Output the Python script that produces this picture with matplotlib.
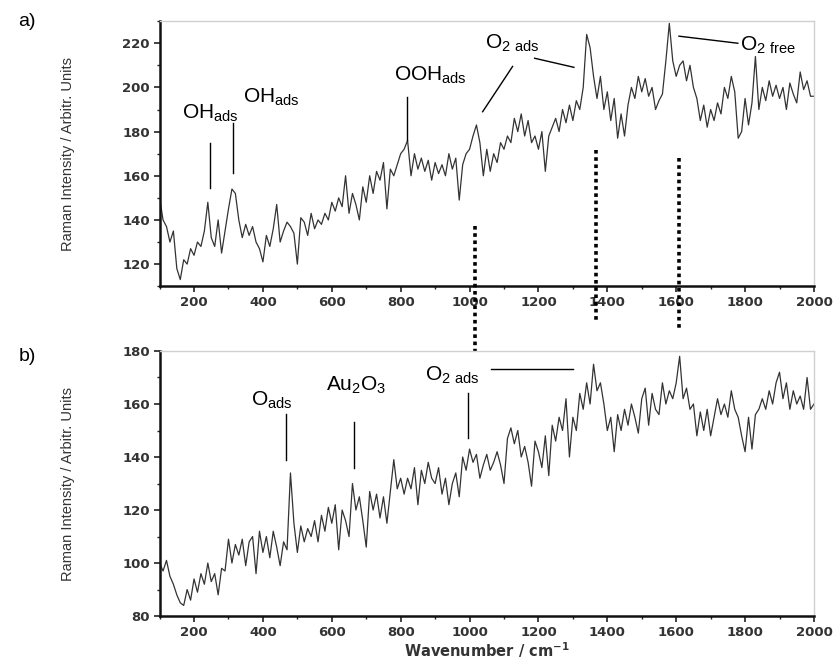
import matplotlib
matplotlib.use("Agg")
import matplotlib.pyplot as plt
from matplotlib.ticker import MultipleLocator
import numpy as np

plt.rcParams['font.family'] = ['Liberation Sans', 'DejaVu Sans']
plt.rcParams['mathtext.default'] = 'regular'

# wavenumber axis, 10 cm-1 steps
wn = np.arange(100, 2001, 10)

# spectrum a)
spec_a = [
    150, 140, 137, 130, 135, 118, 113, 122, 120, 127,
    124, 130, 128, 135, 148, 132, 128, 140, 125, 135,
    145, 154, 152, 140, 132, 138, 133, 137, 130, 127,
    121, 133, 128, 136, 147, 130, 135, 139, 137, 134,
    120, 141, 139, 133, 143, 136, 140, 138, 143, 140,
    148, 144, 150, 146, 160, 143, 152, 147, 140, 155,
    148, 160, 152, 162, 158, 166, 145, 163, 160, 165,
    170, 172, 176, 160, 170, 163, 168, 162, 167, 158,
    166, 161, 165, 160, 170, 163, 168, 149, 165, 170,
    172, 178, 183, 175, 160, 172, 162, 170, 166, 175,
    172, 178, 175, 186, 180, 188, 178, 185, 175, 178,
    172, 180, 162, 178, 182, 186, 180, 190, 184, 192,
    185, 194, 190, 200, 224, 218, 205, 195, 205, 190,
    198, 185, 195, 177, 188, 178, 192, 200, 195, 205,
    198, 204, 196, 200, 190, 194, 197, 212, 229, 212,
    205, 210, 212, 203, 210, 200, 195, 185, 192, 182,
    190, 185, 193, 188, 200, 195, 205, 198, 177, 180,
    195, 183, 193, 214, 190, 200, 194, 203, 196, 201,
    195, 200, 190, 202, 197, 193, 207, 199, 203, 196,
    196,
]

# spectrum b)
spec_b = [
    100, 97, 101, 95, 92, 88, 85, 84, 90, 86,
    94, 89, 96, 92, 100, 93, 96, 88, 98, 97,
    109, 100, 107, 103, 109, 99, 108, 110, 96, 112,
    104, 110, 102, 112, 106, 99, 108, 105, 134, 115,
    104, 114, 108, 113, 110, 116, 108, 118, 112, 121,
    115, 122, 105, 120, 116, 110, 130, 120, 125, 116,
    106, 127, 120, 126, 117, 125, 115, 127, 139, 128,
    132, 126, 132, 128, 136, 122, 135, 130, 138, 132,
    130, 136, 126, 132, 122, 130, 134, 125, 140, 135,
    143, 138, 141, 132, 137, 141, 135, 138, 142, 137,
    130, 147, 151, 145, 150, 140, 144, 138, 129, 146,
    142, 136, 148, 133, 152, 146, 155, 150, 162, 140,
    155, 150, 164, 158, 168, 160, 175, 165, 168, 160,
    150, 155, 142, 156, 150, 158, 152, 160, 155, 149,
    162, 166, 152, 164, 158, 156, 168, 160, 165, 162,
    168, 178, 162, 166, 158, 160, 148, 157, 150, 158,
    148, 155, 162, 156, 160, 155, 165, 158, 155, 148,
    142, 155, 143, 156, 158, 162, 158, 165, 160, 168,
    172, 162, 168, 158, 165, 160, 163, 158, 170, 158,
    160,
]

tick_font = dict(family='DejaVu Sans', weight='bold', size=9.5)
line_col = '#333333'

fig = plt.figure(figsize=(8.4, 6.61), dpi=100)
ax1 = fig.add_axes([0.190, 0.567, 0.779, 0.401])
ax2 = fig.add_axes([0.190, 0.068, 0.779, 0.401])


def style(ax, ylim, ymaj, ymin):
    ax.set_xlim(100, 2000)
    ax.set_ylim(*ylim)
    ax.xaxis.set_major_locator(MultipleLocator(200))
    ax.xaxis.set_minor_locator(MultipleLocator(100))
    ax.yaxis.set_major_locator(MultipleLocator(ymaj))
    ax.yaxis.set_minor_locator(MultipleLocator(ymin))
    ax.set_xticks(np.arange(200, 2001, 200))
    ax.tick_params(which='major', direction='out', length=4, width=1.2,
                   color='#222222', top=False, right=False, pad=3)
    ax.tick_params(which='minor', direction='out', length=2.5, width=1,
                   color='#222222', top=False, right=False)
    for lab in ax.get_xticklabels() + ax.get_yticklabels():
        lab.set(**tick_font)
        lab.set_color('#333333')
    for s in ['left', 'bottom']:
        ax.spines[s].set_linewidth(1.8)
        ax.spines[s].set_color('#111111')
    for s in ['top', 'right']:
        ax.spines[s].set_linewidth(1)
        ax.spines[s].set_color('#d0d0d0')
    ax.set_ylabel('Raman Intensity / Arbitr. Units', size=10.5,
                  color='#333333', labelpad=34)


ax1.plot(wn, spec_a, color=line_col, lw=0.9)
ax2.plot(wn, spec_b, color=line_col, lw=0.9)
style(ax1, (110, 230), 20, 10)
style(ax2, (80, 180), 20, 10)
ax2.set_xlabel('Wavenumber / cm$^{-1}$', family='DejaVu Sans',
               weight='bold', size=10.5, color='#333333', labelpad=1)

lab_kw = dict(size=15, va='baseline', ha='left', color='black')
seg_kw = dict(color='black', lw=1)

# panel a) labels
ax1.text(164, 186, 'OH$_{ads}$', **lab_kw)
ax1.plot([245, 245], [175, 154.5], **seg_kw)
ax1.text(341, 193, 'OH$_{ads}$', **lab_kw)
ax1.plot([312, 312], [184, 161.4], **seg_kw)
ax1.text(780, 203, 'OOH$_{ads}$', **lab_kw)
ax1.plot([818, 818], [195.5, 176], **seg_kw)
ax1.text(1044, 217.7, 'O$_{2\\ ads}$', **lab_kw)
ax1.plot([1125, 1038], [209.5, 189], **seg_kw)
ax1.plot([1189, 1303], [213.2, 209.1], **seg_kw)
ax1.text(1785, 216.8, 'O$_{2\\ free}$', **lab_kw)
ax1.plot([1608, 1779], [223.2, 220], **seg_kw)

# dotted guide lines crossing between the panels
for xg, y0, y1 in [(1015, 137.3, 79.6), (1367, 171.8, 94.1), (1608, 168.2, 91.0)]:
    ax1.plot([xg, xg], [y0, y1], color='black', lw=2.6,
             linestyle=(0, (1, 1)), clip_on=False, zorder=5)

# panel b) labels
ax2.text(364, 159.2, 'O$_{ads}$', **lab_kw)
ax2.plot([466, 466], [156.2, 138.9], **seg_kw)
ax2.text(582, 164.9, 'Au$_2$O$_3$', **lab_kw)
ax2.plot([664, 664], [153.2, 135.8], **seg_kw)
ax2.text(870, 168.7, 'O$_{2\\ ads}$', **lab_kw)
ax2.plot([995, 995], [164.1, 147.2], **seg_kw)
ax2.plot([1062, 1300], [173.2, 173.2], **seg_kw)

fig.text(0.022, 0.967, 'a)', size=14, va='center', ha='left')
fig.text(0.022, 0.460, 'b)', size=14, va='center', ha='left')

fig.savefig('out.png', dpi=100, facecolor='white')
